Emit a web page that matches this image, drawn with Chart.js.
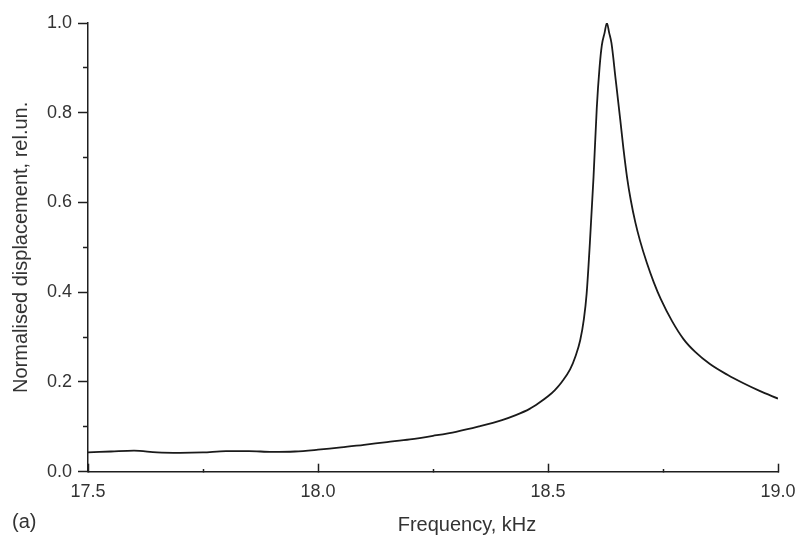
<!DOCTYPE html>
<html>
<head>
<meta charset="utf-8">
<script src="https://cdn.jsdelivr.net/npm/chart.js@4.4.1/dist/chart.umd.min.js"></script>
<style>
  html, body { margin: 0; padding: 0; background: #ffffff; }
  #wrap { width: 798px; height: 536px; position: relative; }
</style>
</head>
<body>
<div id="wrap"><canvas id="c" width="798" height="536"></canvas></div>
<script>
// ---- data ----
const frequencyKHz = [
  17.50, 17.55, 17.60, 17.65, 17.70, 17.75, 17.80, 17.85, 17.90, 17.95,
  18.00, 18.05, 18.10, 18.15, 18.20, 18.25, 18.30, 18.35, 18.40, 18.43,
  18.46, 18.48, 18.50, 18.515, 18.53, 18.548, 18.56, 18.57, 18.578, 18.584,
  18.591, 18.599, 18.606, 18.612, 18.617, 18.623, 18.628, 18.633, 18.638, 18.647,
  18.657, 18.664, 18.672, 18.68, 18.69, 18.70, 18.715, 18.73, 18.745, 18.77,
  18.795, 18.82, 18.852, 18.89, 18.925, 18.96, 19.00
];
const displacement = [
  0.043, 0.045, 0.047, 0.043, 0.042, 0.043, 0.046, 0.046, 0.044, 0.045,
  0.049, 0.054, 0.060, 0.066, 0.072, 0.080, 0.089, 0.101, 0.115, 0.126,
  0.140, 0.153, 0.168, 0.182, 0.200, 0.228, 0.258, 0.293, 0.340, 0.397,
  0.509, 0.657, 0.810, 0.900, 0.950, 0.978, 1.000, 0.978, 0.955, 0.875,
  0.785, 0.720, 0.655, 0.605, 0.555, 0.515, 0.465, 0.422, 0.385, 0.335,
  0.295, 0.267, 0.240, 0.216, 0.197, 0.180, 0.163
];
const xTickLabels = ['17.5', '18.0', '18.5', '19.0'];
const yTickLabels = ['0.0', '0.2', '0.4', '0.6', '0.8', '1.0'];
const xTitle = 'Frequency, kHz';
const yTitle = 'Normalised displacement, rel.un.';
const panelLabel = '(a)';

const FONT = '"Liberation Sans", Arial, Helvetica, sans-serif';
const TEXT = '#333333';
const AXIS = '#1e1e1e';

const points = frequencyKHz.map((f, i) => ({ x: f, y: displacement[i] }));

const isMajorX = v => Math.abs(v * 2 - Math.round(v * 2)) < 1e-6;
const isMajorY = v => Math.round(v * 10) % 2 === 0;

const extraText = {
  id: 'extraText',
  afterDraw(chart) {
    const ctx = chart.ctx;
    ctx.save();
    ctx.fillStyle = TEXT;
    ctx.font = '20px ' + FONT;
    ctx.textBaseline = 'alphabetic';
    ctx.textAlign = 'center';
    ctx.fillText(xTitle, 467, 531);
    ctx.textAlign = 'left';
    ctx.fillText(panelLabel, 12, 528);
    ctx.restore();
  }
};

new Chart(document.getElementById('c'), {
  type: 'line',
  data: {
    datasets: [{
      data: points,
      borderColor: '#1a1a1a',
      borderWidth: 1.8,
      pointRadius: 0,
      fill: false,
      cubicInterpolationMode: 'monotone'
    }]
  },
  options: {
    responsive: false,
    animation: false,
    devicePixelRatio: 1,
    layout: { padding: { top: 23, right: 20, left: 0, bottom: 0 } },
    plugins: { legend: { display: false }, tooltip: { enabled: false } },
    scales: {
      x: {
        type: 'linear',
        min: 17.5,
        max: 19.0,
        afterFit: s => { s.height = 64.3; s.paddingRight = 0; s.paddingLeft = 0; },
        border: { display: true, color: AXIS, width: 1.5 },
        grid: {
          drawOnChartArea: false,
          drawTicks: true,
          tickLength: -8,
          tickColor: AXIS,
          tickWidth: 1.5,
          tickBorderDash: ctx => (ctx.tick && isMajorX(ctx.tick.value)) ? [] : [3.5, 100]
        },
        ticks: {
          stepSize: 0.25,
          padding: 17.5,
          color: TEXT,
          font: { family: FONT, size: 18 },
          maxRotation: 0,
          autoSkip: false,
          callback: v => {
            if (!isMajorX(v)) return '';
            const s = Number(v).toFixed(1);
            return xTickLabels.includes(s) ? s : '';
          }
        }
      },
      y: {
        min: 0,
        max: 1,
        afterFit: s => { s.width = 88; s.paddingTop = 0; s.paddingBottom = 0; },
        border: { display: true, color: AXIS, width: 1.5 },
        grid: {
          drawOnChartArea: false,
          drawTicks: true,
          tickLength: 10,
          tickColor: AXIS,
          tickWidth: 1.5,
          tickBorderDash: ctx => (ctx.tick && isMajorY(ctx.tick.value)) ? [] : [0, 5, 5, 100]
        },
        ticks: {
          stepSize: 0.1,
          padding: 6,
          color: TEXT,
          font: { family: FONT, size: 18 },
          autoSkip: false,
          callback: v => {
            if (!isMajorY(v)) return '';
            const s = Number(v).toFixed(1);
            return yTickLabels.includes(s) ? s : '';
          }
        },
        title: {
          display: true,
          text: yTitle,
          color: TEXT,
          font: { family: FONT, size: 20, lineHeight: 1.2 },
          padding: { top: 9, bottom: 0 }
        }
      }
    }
  },
  plugins: [extraText]
});
</script>
</body>
</html>
